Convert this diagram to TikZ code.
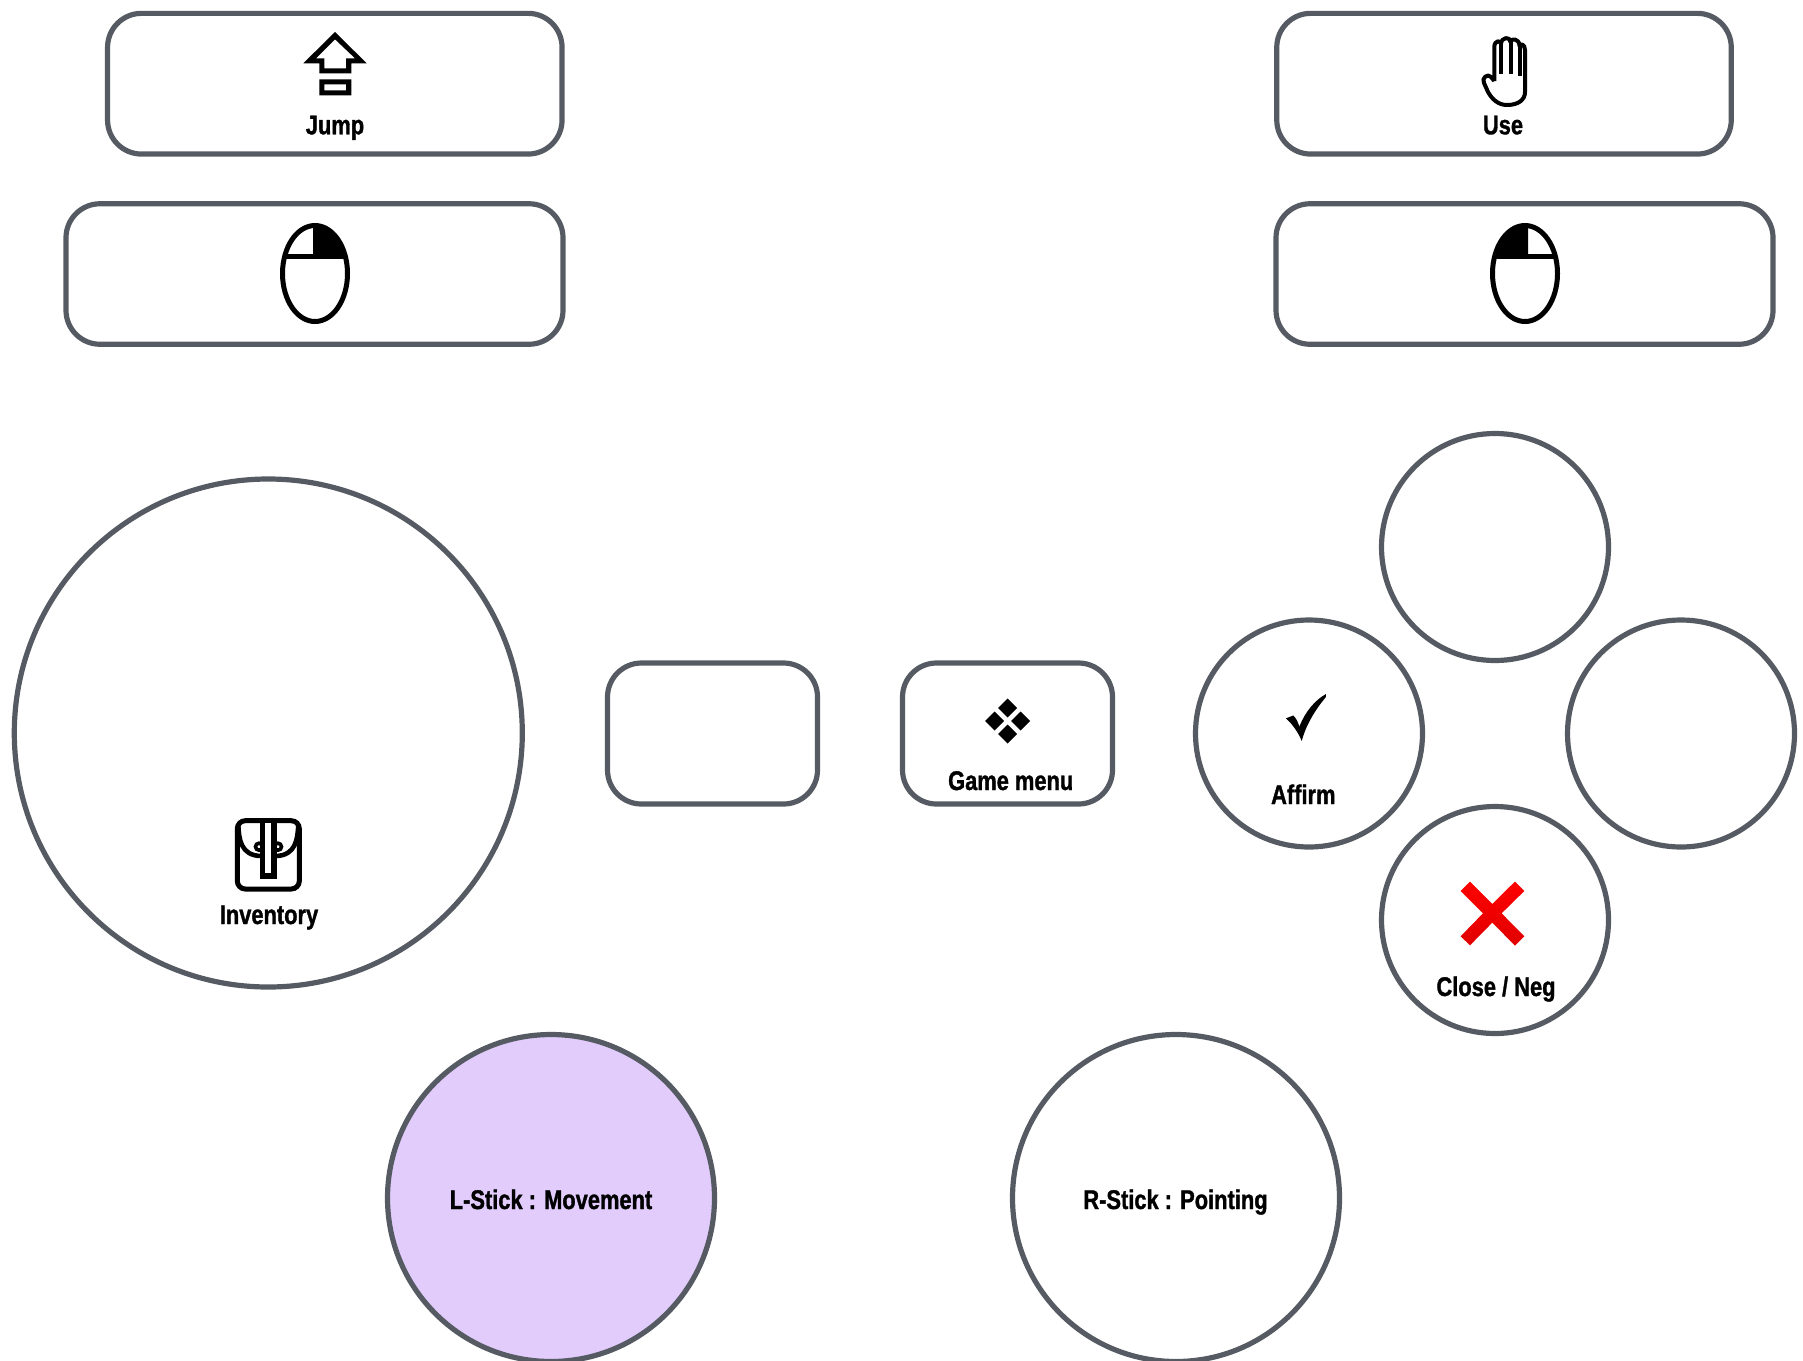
\documentclass[tikz,border=0pt]{standalone}
\usepackage{fontspec}
\usetikzlibrary{shapes.geometric}
\newfontfamily\labelfont[FakeStretch=0.81,FakeBold=1.2]{Liberation Sans Bold}
\definecolor{padline}{HTML}{565B63}
\definecolor{lstickfill}{HTML}{E1CCFC}
\tikzstyle{padbox} = [draw=padline, line width=2.6pt, rounded corners=17pt, inner sep=0pt, fill=white]
\tikzstyle{padround} = [draw=padline, line width=2.6pt, circle, inner sep=0pt, fill=white]
\tikzstyle{padlabel} = [font=\labelfont\fontsize{13.5}{15}\selectfont, text=black, inner sep=0pt, anchor=base]
\tikzstyle{iconline} = [draw=black, line width=2.3pt]
\begin{document}
\begin{tikzpicture}[x=0.5pt,y=-0.5pt]
        \useasboundingbox (0,0) rectangle (1803,1360);

        % shoulder buttons
        \node[padbox,minimum width=227.25pt,minimum height=70.35pt] (jumpbox) at (334.8,83.7) {};
        \node[padlabel] (jumplabel) at (335,134.3) {Jump};
        \node[padbox,minimum width=248.5pt,minimum height=70.25pt] (lmousebox) at (314.5,274) {};
        \node[padbox,minimum width=227.25pt,minimum height=70.35pt] (usebox) at (1504,83.7) {};
        \node[padlabel] (uselabel) at (1503,134.3) {Use};
        \node[padbox,minimum width=248.5pt,minimum height=70.25pt] (rmousebox) at (1524.5,274) {};

        % face
        \node[padround,minimum size=254pt] (dpad) at (268.3,733) {};
        \node[padlabel] (inventorylabel) at (269,924) {Inventory};
        \node[padbox,minimum width=105pt,minimum height=70.5pt] (selectbox) at (712.5,733.5) {};
        \node[padbox,minimum width=105pt,minimum height=70.5pt] (menubox) at (1007.5,733.5) {};
        \node[padlabel] (menulabel) at (1010.7,790) {Game menu};
        \node[padround,minimum size=113.5pt] (topbtn) at (1495,547) {};
        \node[padround,minimum size=113.5pt] (leftbtn) at (1309,733.5) {};
        \node[padround,minimum size=113.5pt] (rightbtn) at (1681,733.5) {};
        \node[padround,minimum size=113.5pt] (bottombtn) at (1495,920) {};
        \node[padlabel] (affirmlabel) at (1303.3,804) {Affirm};
        \node[padlabel] (closelabel) at (1496,996) {Close / Neg};

        % sticks
        \node[padround,minimum size=163.5pt,fill=lstickfill] (lstick) at (551,1198) {};
        \node[padlabel] (lsticklabel) at (551,1209) {L-Stick : Movement};
        \node[padround,minimum size=163.5pt] (rstick) at (1176,1198) {};
        \node[padlabel] (rsticklabel) at (1175.5,1209) {R-Stick : Pointing};

        % jump arrow
        \fill[black,even odd rule] (335,32) -- (366.7,63.3) -- (351.3,63.3) -- (351.3,73.3) -- (319.3,73.3) -- (319.3,63.3) -- (303.3,63.3) -- cycle
                (335,39.3) -- (316,58.3) -- (324.3,58.3) -- (324.3,68.3) -- (346,68.3) -- (346,58.3) -- (355,58.3) -- cycle
                (319.3,79.3) rectangle (351.3,95.3) (324.3,84.3) rectangle (346,90.3);

        % hand
        \draw[iconline,line width=2pt,line join=round] (1494.3,81) -- (1494.3,47) .. controls (1494.3,40) and (1501,40) .. (1501,44)
                .. controls (1501,37) and (1510.5,36) .. (1510.5,42) .. controls (1510.5,38) and (1519.5,38) .. (1519.5,46)
                .. controls (1520,43) and (1525,44) .. (1525,50) -- (1525,92) .. controls (1525,100) and (1518,105) .. (1507,105)
                .. controls (1498,105) and (1492,99) .. (1488,92) -- (1484,83) .. controls (1481,78) and (1488,73) .. (1491,77) -- (1494.3,81);
        \draw[iconline,line width=2pt] (1501,44) -- (1501,74) (1510.5,42) -- (1510.5,74) (1519.5,46) -- (1519.5,76);

        % mouse left
        \fill[black] (313,258) -- (347,258) .. controls (342,238) and (330,225) .. (315,225) -- (313,225) -- cycle;
        \draw[iconline,line width=2.5pt] (315,273.5) ellipse (32.5 and 48);
        \draw[iconline,line width=2.5pt] (284,256) -- (347,256) (315,225) -- (315,256);

        % mouse right
        \fill[black] (1528,258) -- (1493,258) .. controls (1498,238) and (1510,225) .. (1525,225) -- (1528,225) -- cycle;
        \draw[iconline,line width=2.5pt] (1525,273.5) ellipse (32.5 and 48);
        \draw[iconline,line width=2.5pt] (1494,256) -- (1556,256) (1525.5,225) -- (1525.5,256);

        % backpack
        \draw[iconline,line width=2.5pt,rounded corners=4pt] (237.3,820.7) rectangle (299.3,889);
        \draw[iconline] (238.3,825) .. controls (239,838) and (240,856) .. (261.7,856);
        \draw[iconline] (298.3,825) .. controls (297.5,838) and (296.5,856) .. (275,856);
        \draw[iconline,line width=1.8pt] (259,846.7) circle (3.5) (278,846.7) circle (3.5);
        \draw[iconline,line width=2.6pt,fill=white] (262.7,820.7) rectangle (274,876);

        % menu diamonds
        \foreach \dx/\dy in {0/-13,-13/0,13/0,0/13}
                \fill[black] (1007.7+\dx-9.5,721+\dy) -- (1007.7+\dx,721+\dy-9.5) -- (1007.7+\dx+9.5,721+\dy) -- (1007.7+\dx,721+\dy+9.5) -- cycle;

        % check
        \fill[black] (1286,718.3) -- (1293.3,715.5) .. controls (1296,718) and (1298,722) .. (1299.3,726.7)
                .. controls (1305,712) and (1315,700) .. (1326,694) -- (1325.7,697.3)
                .. controls (1315,710) and (1306,725) .. (1301.7,741) .. controls (1298,732) and (1293,725) .. (1286,718.3) -- cycle;

        % cross
        \path[top color=red,bottom color=red!88!black] (1460.6,891) -- (1470,881.6) -- (1492.3,904) -- (1514.9,881.6) -- (1524.3,891) -- (1501.6,913.3)
                -- (1524.3,936.3) -- (1514.9,945.6) -- (1492.3,922.6) -- (1470,945.3) -- (1460.6,936.3) -- (1483,913.3) -- cycle;
\end{tikzpicture}
\end{document}
